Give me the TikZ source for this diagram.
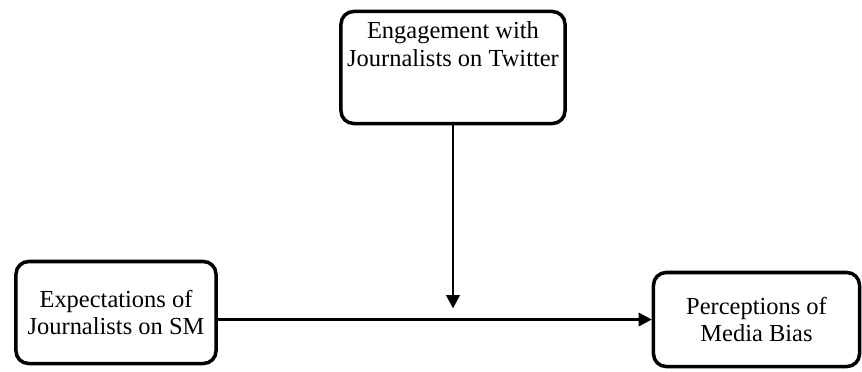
\documentclass[tikz,border=0pt]{standalone}
\usepackage{fontspec}
\setmainfont{Liberation Serif}
\usepackage{tikz}
\usetikzlibrary{positioning,arrows.meta}
\tikzset{
    biasbox/.style={draw, line width=2.5pt, rounded corners=9pt, align=center, inner sep=0pt, font=\fontsize{17.4}{19.5}\selectfont},
    biasarrow/.style={draw, line width=1.5pt, -{Triangle[length=3.3mm, width=3.4mm]}},
    biastext/.style={align=center, inner sep=0pt, font=\fontsize{17.4}{19.5}\selectfont}
}
\begin{document}
\begin{tikzpicture}[x=0.025cm, y=-0.025cm]
    \useasboundingbox (0,0) rectangle (862,371);

    \node[biasbox, minimum width=5.6cm, minimum height=2.8cm] (engage) at (453,67.5) {};
    \node[biastext, below=0.3cm of engage.north] (engagetext) {Engagement with\\Journalists on Twitter};
    \node[biasbox, minimum width=5.0cm, minimum height=2.55cm] (expect) at (116,312.5) {Expectations of\\Journalists on SM};
    \node[biasbox, minimum width=5.15cm, minimum height=2.35cm] (bias) at (756.5,319.5) {Perceptions of\\Media Bias};

    \coordinate (meet) at (engage.south |- bias.west);

    \draw[biasarrow] (expect.east |- bias.west) -- (bias.west);
    \draw[biasarrow] (engage.south) -- ([yshift=0.28cm]meet);
\end{tikzpicture}
\end{document}
